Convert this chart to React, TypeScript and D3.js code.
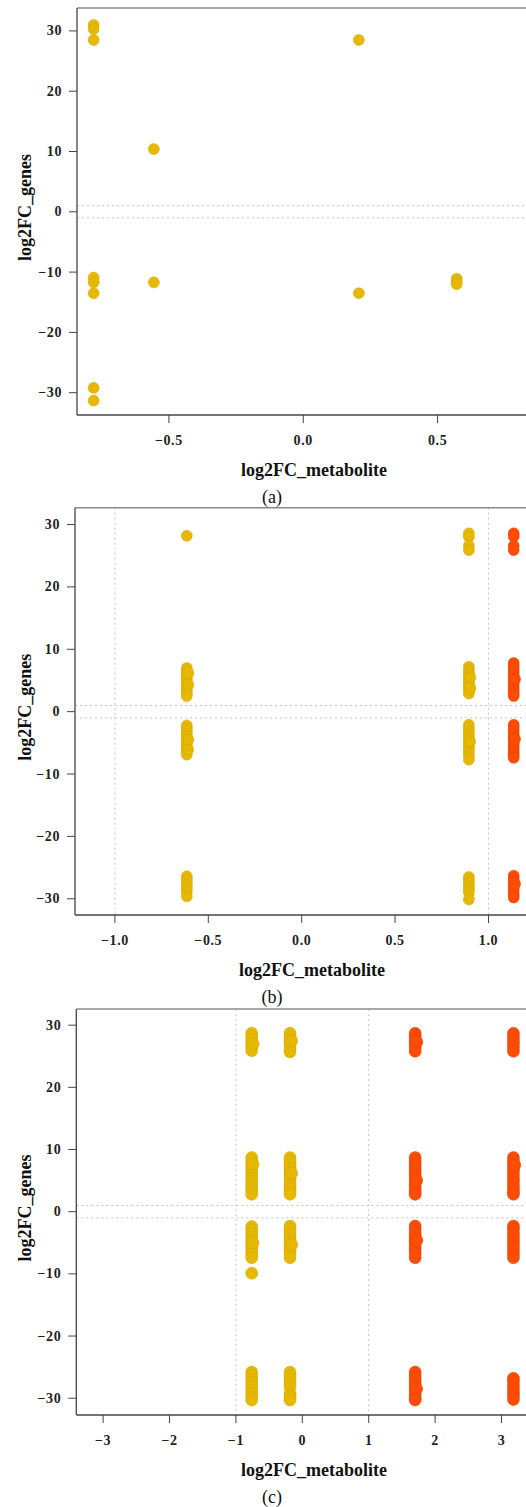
import React from "react";
import * as d3 from "d3";

// ---------- DATA ----------
// Panel (a): individual points (log2FC_metabolite, log2FC_genes)
const aX = [-0.78, -0.78, -0.78, -0.78, -0.78, -0.78, -0.78, -0.78, -0.556, -0.556, 0.207, 0.207, 0.571, 0.571, 0.571];
const aY = [31.0, 30.3, 28.5, -10.9, -11.7, -13.5, -29.2, -31.3, 10.4, -11.7, 28.5, -13.5, -11.1, -11.6, -12.0];

// Panel (b): columns of points
const bColX = [-0.615, 0.895, 1.135];
const bY0 = [28.2, 7.0, 6.5, 6.1, 5.6, 5.2, 4.7, 4.3, 3.8, 3.4, 2.9, 2.5, -2.2, -2.7, -3.1, -3.6, -4.0, -4.5, -4.9, -5.4, -5.9, -6.3, -6.9, -26.4, -26.9, -27.3, -27.8, -28.3, -28.8, -29.6];
const bY1 = [28.6, 28.0, 26.6, 25.9, 7.2, 6.7, 6.2, 5.8, 5.3, 4.8, 4.3, 3.9, 3.4, 2.9, -2.1, -2.6, -3.1, -3.6, -4.1, -4.6, -5.1, -5.6, -6.1, -6.6, -7.0, -7.7, -26.5, -27.0, -27.5, -28.0, -28.5, -29.0, -30.1];
const bY2 = [28.6, 28.1, 26.6, 25.9, 7.8, 7.3, 6.8, 6.3, 5.8, 5.3, 4.8, 4.3, 3.8, 3.3, 2.9, 2.5, -2.1, -2.6, -3.1, -3.6, -4.1, -4.6, -5.1, -5.6, -6.1, -6.6, -7.0, -7.4, -26.3, -26.8, -27.3, -27.8, -28.3, -28.9, -29.4, -29.8];
const bBumpX = [-0.607, -0.607, -0.607, -0.608, 0.903, 0.903, 0.902, 1.142, 1.142, 1.142];
const bBumpY = [6.2, 4.3, -4.5, -6.1, 5.5, 3.8, -4.8, 5.2, -4.4, -27.6];

// Panel (c): columns of points
const cColX = [-0.762, -0.185, 1.70, 3.18];
const cY0 = [28.7, 28.2, 27.6, 27.0, 26.5, 25.9, 8.7, 8.2, 7.6, 7.1, 6.5, 6.0, 5.4, 4.9, 4.3, 3.8, 3.3, 2.8, -2.4, -2.9, -3.5, -4.0, -4.6, -5.1, -5.7, -6.2, -6.8, -7.4, -9.9, -25.8, -26.4, -27.0, -27.5, -28.1, -28.7, -29.3, -29.8, -30.3];
const cY1 = [28.7, 28.1, 27.5, 27.0, 26.4, 25.7, 8.7, 8.1, 7.6, 7.0, 6.4, 5.9, 5.3, 4.8, 4.2, 3.7, 3.2, 2.8, -2.3, -2.8, -3.4, -3.9, -4.5, -5.0, -5.6, -6.1, -6.7, -7.4, -25.8, -26.4, -27.0, -27.5, -28.1, -29.2, -29.7, -30.3];
const cY2 = [28.7, 28.2, 27.6, 27.0, 26.4, 25.8, 8.7, 8.1, 7.6, 7.0, 6.5, 5.9, 5.4, 4.8, 4.3, 3.7, 3.2, 2.8, -2.3, -2.8, -3.4, -3.9, -4.5, -5.0, -5.6, -6.1, -6.7, -7.4, -25.8, -26.4, -27.0, -27.6, -28.2, -28.8, -29.4, -30.0, -30.3];
const cY3 = [28.7, 28.1, 27.5, 27.0, 26.4, 25.8, 8.7, 8.1, 7.6, 7.0, 6.5, 5.9, 5.3, 4.8, 4.2, 3.7, 3.2, 2.8, -2.3, -2.8, -3.4, -3.9, -4.5, -5.0, -5.6, -6.2, -6.8, -7.4, -26.8, -27.3, -27.9, -28.5, -29.1, -29.6, -30.2];
const cBumpX = [-0.74, -0.742, -0.742, -0.16, -0.16, -0.16, 1.725, 1.722, 1.725, 1.722, 3.2];
const cBumpY = [27.0, 7.6, -5.0, 27.5, 6.2, -5.3, 27.3, 5.0, -4.6, -28.5, 7.5];

// Tick values
const yTicks = [-30, -20, -10, 0, 10, 20, 30];
const aXTicks = [-0.5, 0.0, 0.5];
const bXTicks = [-1.0, -0.5, 0.0, 0.5, 1.0];
const cXTicks = [-3, -2, -1, 0, 1, 2, 3];
const thresholds = [-1, 1];

const xTitle = "log2FC_metabolite";
const yTitle = "log2FC_genes";
const captions = ["(a)", "(b)", "(c)"];

// ---------- STYLES ----------
const YELLOW = "#E6B800";
const YELLOW_EDGE = "#D2A600";
const RED = "#FF4D06";
const RED_EDGE = "#E03F00";
const FONT = "'Liberation Serif', 'Times New Roman', serif";

type Pt = { x: number; y: number };

function columns(xs: number[], ys: number[][], bx: number[], by: number[]): Pt[] {
  const pts: Pt[] = [];
  xs.forEach((x, i) => ys[i].forEach((y) => pts.push({ x, y })));
  bx.forEach((x, i) => pts.push({ x, y: by[i] }));
  return pts;
}

const fmtMinus = (s: string) => s.replace("-", "\u2212");

function Panel(props: {
  pts: Pt[];
  xDomain: [number, number];
  yDomain: [number, number];
  left: number;
  right: number;
  top: number;
  bottom: number;
  xTicks: number[];
  xFmt: (v: number) => string;
  caption: string;
  titleX: number;
  r: number;
}) {
  const { pts, xDomain, yDomain, left, right, top, bottom, xTicks, xFmt, caption, titleX, r } = props;
  const x = d3.scaleLinear().domain(xDomain).range([left, right]);
  const y = d3.scaleLinear().domain(yDomain).range([bottom, top]);
  const [x0, x1] = xDomain;
  const vlines = thresholds.filter((t) => t > x0 && t < x1);
  return (
    <g>
      {thresholds.map((t) => (
        <line key={"h" + t} x1={left} x2={right} y1={y(t)} y2={y(t)} stroke="#c4c4c4" strokeWidth={1} strokeDasharray="2,3" />
      ))}
      {vlines.map((t) => (
        <line key={"v" + t} x1={x(t)} x2={x(t)} y1={top} y2={bottom} stroke="#c4c4c4" strokeWidth={1} strokeDasharray="2,3" />
      ))}
      {pts.map((p, i) => (
        <circle
          key={i}
          cx={x(p.x)}
          cy={y(p.y)}
          r={r}
          fill={p.x > 1 ? RED : YELLOW}
          stroke={p.x > 1 ? RED_EDGE : YELLOW_EDGE}
          strokeWidth={0.5}
        />
      ))}
      <line x1={left} x2={right} y1={top} y2={top} stroke="#8a8a8a" strokeWidth={1.5} />
      <line x1={left} x2={left} y1={top} y2={bottom} stroke="#444" strokeWidth={1.3} />
      <line x1={left} x2={right} y1={bottom} y2={bottom} stroke="#444" strokeWidth={1.3} />
      {yTicks.map((t) => (
        <g key={"yt" + t}>
          <line x1={left - 8} x2={left} y1={y(t)} y2={y(t)} stroke="#444" strokeWidth={1} />
          <text
            x={left - 15}
            y={y(t)}
            textAnchor="end"
            dominantBaseline="central"
            fontFamily={FONT}
            fontWeight="bold"
            fontSize={14}
            letterSpacing={0.6}
            fill="#222"
          >
            {fmtMinus(String(t))}
          </text>
        </g>
      ))}
      {xTicks.map((t) => (
        <g key={"xt" + t}>
          <line x1={x(t)} x2={x(t)} y1={bottom} y2={bottom + 8} stroke="#444" strokeWidth={1} />
          <text
            x={x(t)}
            y={bottom + 25}
            textAnchor="middle"
            dominantBaseline="central"
            fontFamily={FONT}
            fontWeight="bold"
            fontSize={14}
            letterSpacing={0.6}
            fill="#222"
          >
            {fmtMinus(xFmt(t))}
          </text>
        </g>
      ))}
      <text
        x={titleX}
        y={bottom + 55}
        textAnchor="middle"
        dominantBaseline="central"
        fontFamily={FONT}
        fontWeight="bold"
        fontSize={18}
        fill="#111"
      >
        {xTitle}
      </text>
      <text
        transform={`translate(25,${(top + bottom) / 2 - 4}) rotate(-90)`}
        textAnchor="middle"
        dominantBaseline="central"
        fontFamily={FONT}
        fontWeight="bold"
        fontSize={18}
        fill="#111"
      >
        {yTitle}
      </text>
      <text
        x={272}
        y={bottom + 82}
        textAnchor="middle"
        dominantBaseline="central"
        fontFamily={FONT}
        fontSize={18}
        fill="#111"
      >
        {caption}
      </text>
    </g>
  );
}

export default function App() {
  const aPts: Pt[] = aX.map((x, i) => ({ x, y: aY[i] }));
  const bPts = columns(bColX, [bY0, bY1, bY2], bBumpX, bBumpY);
  const cPts = columns(cColX, [cY0, cY1, cY2, cY3], cBumpX, cBumpY);
  const f1 = d3.format(".1f");
  const f0 = d3.format("d");
  return (
    <svg
      width={526}
      height={1507}
      style={{ position: "absolute", left: 0, top: 0, background: "#fff" }}
    >
      <rect width={526} height={1507} fill="#fff" />
      <Panel
        pts={aPts}
        xDomain={[-0.842, 0.829]}
        yDomain={[-33.7, 33.8]}
        left={77}
        right={526}
        top={8}
        bottom={415}
        xTicks={aXTicks}
        xFmt={f1}
        caption={captions[0]}
        titleX={314}
        r={5.5}
      />
      <Panel
        pts={bPts}
        xDomain={[-1.2136, 1.2008]}
        yDomain={[-32.6, 32.7]}
        left={75}
        right={526}
        top={507.7}
        bottom={915}
        xTicks={bXTicks}
        xFmt={f1}
        caption={captions[1]}
        titleX={312}
        r={5.5}
      />
      <Panel
        pts={cPts}
        xDomain={[-3.404, 3.369]}
        yDomain={[-32.7, 32.6]}
        left={76.3}
        right={526}
        top={1009}
        bottom={1415}
        xTicks={cXTicks}
        xFmt={f0}
        caption={captions[2]}
        titleX={314}
        r={6}
      />
    </svg>
  );
}
